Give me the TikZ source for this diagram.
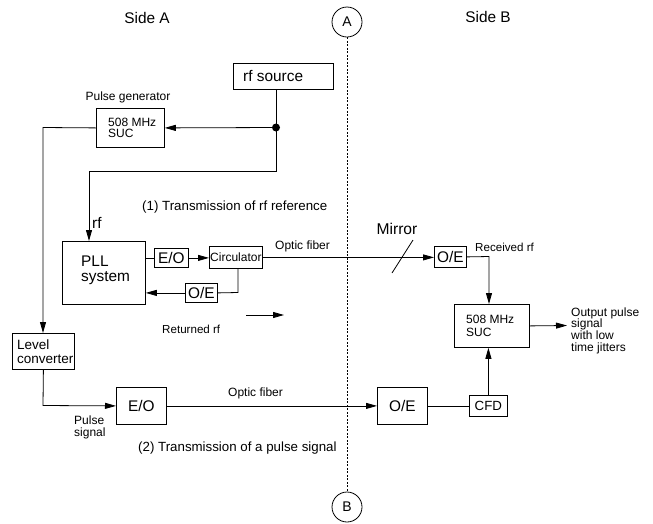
\documentclass[tikz,border=0pt]{standalone}
\usepackage{fontspec}
\setmainfont{Liberation Sans}
\usetikzlibrary{arrows.meta}
\newcommand\szbig{\fontsize{15.4}{15.5}\selectfont}
\newcommand\szmid{\fontsize{13.3}{14}\selectfont}
\newcommand\szsmall{\fontsize{12}{11.6}\selectfont}
\tikzset{
  box/.style={draw, line width=0.8pt, anchor=north west, inner sep=0pt},
  txt/.style={inner sep=0pt, anchor=west, align=left},
  ln/.style={line width=0.8pt},
  arr/.style={line width=0.8pt, -{Triangle[length=11pt,width=6pt]}},
  sep/.style={line width=0.7pt, dash pattern=on 2pt off 1.5pt},
  circ/.style={draw, circle, line width=0.8pt, minimum size=30pt, inner sep=0pt}
}
\begin{document}
\begin{tikzpicture}[x=1pt,y=-1pt]
\useasboundingbox (0,0) rectangle (653,523);

% side labels and separator
\node[inner sep=0pt, font=\szbig] (sideA) at (147,18) {Side A};
\node[inner sep=0pt, font=\szbig] (sideB) at (488,17) {Side B};
\node[circ, font=\fontsize{14}{14}\selectfont] (cA) at (347,22) {A};
\node[circ, font=\fontsize{14}{14}\selectfont] (cB) at (347,507) {B};
\draw[sep] (cA.south) -- (cB.north);

% boxes
\node[box, minimum width=100pt, minimum height=26pt] (rfsrc) at (233,63) {};
\node[txt, font=\szbig] (rfsrct) at ([xshift=10pt]rfsrc.west) {rf source};

\node[box, minimum width=68pt, minimum height=39pt] (sucA) at (96,108) {};
\node[txt, font=\fontsize{12}{10.7}\selectfont] (sucAt) at ([xshift=12pt]sucA.west) {508 MHz\\SUC};
\node[inner sep=0pt, font=\szsmall] (pgen) at (128,97) {Pulse generator};

\node[box, minimum width=83pt, minimum height=63pt] (pll) at (62,241) {};
\node[txt, font=\fontsize{15.4}{15}\selectfont] (pllt) at (81,270.5) {PLL\\system};

\node[box, minimum width=34pt, minimum height=19pt] (eo1) at (154,248) {};
\node[inner sep=0pt, font=\szbig] at (eo1.center) {E/O};
\node[box, minimum width=53pt, minimum height=22pt] (circu) at (209,246) {};
\node[inner sep=0pt, font=\szsmall] at (circu.center) {Circulator};
\node[box, minimum width=32pt, minimum height=19pt] (oe1) at (185,283) {};
\node[inner sep=0pt, font=\szbig] at (oe1.center) {O/E};

\node[box, minimum width=62pt, minimum height=36pt] (lvl) at (12,333) {};
\node[txt, font=\fontsize{13.5}{14}\selectfont] (lvlt) at ([xshift=5pt]lvl.west) {Level\\converter};

\node[box, minimum width=50pt, minimum height=37pt] (eo2) at (116,387) {};
\node[inner sep=0pt, font=\szbig] at (eo2.center) {E/O};

\node[box, minimum width=32pt, minimum height=21pt] (oe2) at (434,246) {};
\node[inner sep=0pt, font=\szbig] at (oe2.center) {O/E};

\node[box, minimum width=75pt, minimum height=43pt] (sucB) at (454,304) {};
\node[txt, font=\fontsize{12}{12.5}\selectfont] (sucBt) at ([xshift=12pt]sucB.west) {508 MHz\\SUC};

\node[box, minimum width=50pt, minimum height=37pt] (oe3) at (377,387) {};
\node[inner sep=0pt, font=\szbig] at (oe3.center) {O/E};
\node[box, minimum width=38pt, minimum height=21pt] (cfd) at (469,395) {};
\node[inner sep=0pt, font=\szmid] at (cfd.center) {CFD};

% free labels
\node[txt, font=\szmid] (t1) at (142,207) {(1) Transmission of rf reference};
\node[txt, font=\szbig] (rfl) at (92,223) {rf};
\node[txt, font=\szsmall] (of1) at (275,246) {Optic fiber};
\node[inner sep=0pt, font=\fontsize{15.6}{16}\selectfont] (mirr) at (397,229) {Mirror};
\node[txt, font=\fontsize{11.6}{12}\selectfont] (recv) at (475,247) {Received rf};
\node[txt, font=\fontsize{11.6}{12}\selectfont] (ret) at (162,329) {Returned rf};
\node[txt, font=\fontsize{12}{11.5}\selectfont] (psig) at (74,427.5) {Pulse\\signal};
\node[txt, font=\szsmall] (of2) at (228,393) {Optic fiber};
\node[txt, font=\szmid] (t2) at (138,448) {(2) Transmission of a pulse signal};
\node[txt, font=\fontsize{12}{11.7}\selectfont] (outp) at (571,330.5) {Output pulse\\signal\\with low\\time jitters};

% coordinates
\coordinate (dot) at (276,127.5);
\coordinate (b1) at (276,171);
\coordinate (b2) at (89,171);
\coordinate (b3) at (43,127.5);
\coordinate (b4) at (43,405.5);
\coordinate (b5) at (489,256.5);
\coordinate (b6) at (238,292.5);
\coordinate (outE) at (567,325.5);
\coordinate (ra1) at (246,315);
\coordinate (ra2) at (284,315);
\coordinate (m1) at (392,273);
\coordinate (m2) at (413,240);

% connectors
\fill (dot) circle (4pt);
\draw[arr] (rfsrc.south -| dot) -- (b1) -- (b2) -- (b2 |- pll.north);
\draw[arr] (dot) -- (sucA.east);
\draw[arr] (sucA.west) -- (b3) -- (b3 |- lvl.north);
\draw[arr] (lvl.south) -- (b4) -- (eo2.west);
\draw[arr] (eo2.east) -- (oe3.west);
\draw[ln] (oe3.east) -- (cfd.west);
\draw[arr] (cfd.north) -- (cfd.north |- sucB.south);
\draw[arr] (oe2.east) -- (b5) -- (b5 |- sucB.north);
\draw[arr] (sucB.east) -- (outE);
\draw[ln] (eo1.west -| pll.east) -- (eo1.west);
\draw[arr] (eo1.east) -- (eo1.east -| circu.west);
\draw[arr] (circu.east) -- (circu.east -| oe2.west);
\draw[ln] (b6 |- circu.south) -- (b6) -- (oe1.east);
\draw[arr] (oe1.west) -- (oe1.west -| pll.east);
\draw[arr] (ra1) -- (ra2);
\draw[ln] (m1) -- (m2);
\end{tikzpicture}
\end{document}
